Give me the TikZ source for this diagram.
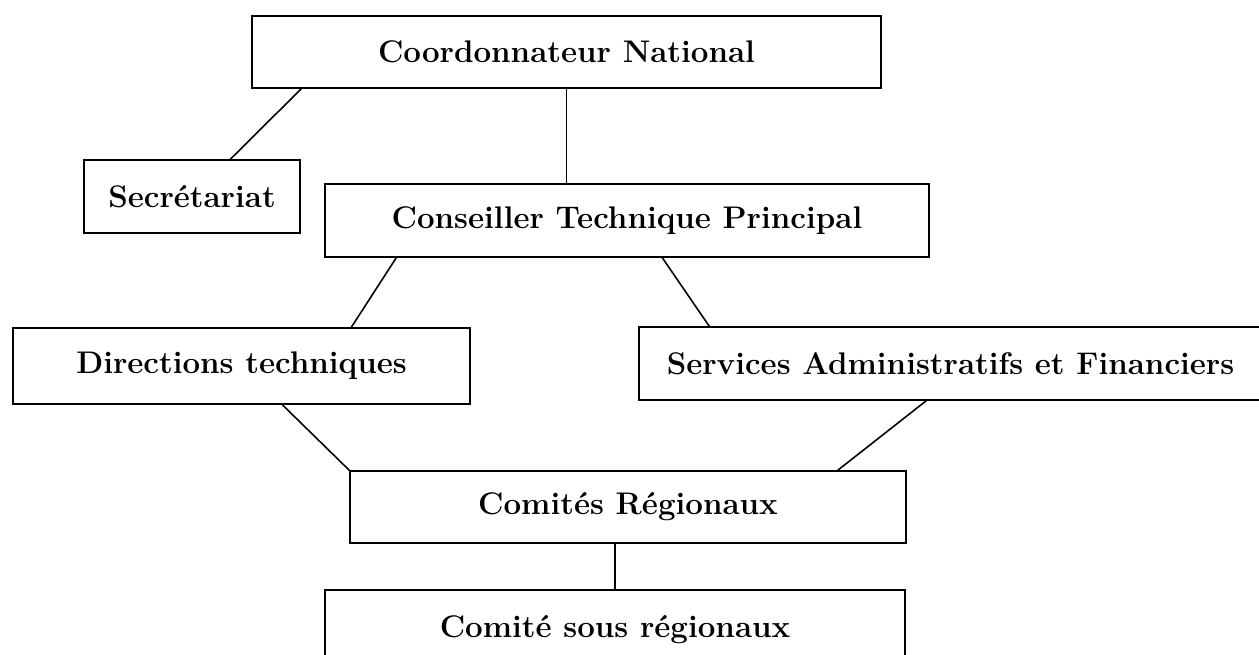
\documentclass[tikz,border=0pt]{standalone}
\usepackage{tikz}
\usetikzlibrary{positioning,calc}

\begin{document}
\begin{tikzpicture}[x=0.02cm,y=-0.02cm,
    unit/.style={draw, thick, rectangle, inner sep=0pt, font=\fontsize{17.8}{21}\selectfont\bfseries},
    link/.style={draw, line width=0.9pt}]
    \useasboundingbox (0,0) rectangle (1259,654);

    % Boxes (organigram levels)
    \node[unit, minimum width=629*0.02cm, minimum height=72*0.02cm] (coord) at (566.5,52) {Coordonnateur National};
    \node[unit, minimum width=216*0.02cm, minimum height=73*0.02cm] (secr) at (192,196.5) {Secrétariat};
    \node[unit, minimum width=604*0.02cm, minimum height=73*0.02cm] (ctp) at (627,220.5) {Conseiller Technique Principal};
    \node[unit, minimum width=457*0.02cm, minimum height=76*0.02cm] (dir) at (241.5,366) {Directions techniques};
    \node[unit, minimum width=623*0.02cm, minimum height=73*0.02cm] (saf) at (950.5,363.5) {Services Administratifs et Financiers};
    \node[unit, minimum width=556*0.02cm, minimum height=72*0.02cm] (crg) at (628,507) {Comités Régionaux};
    \node[unit, minimum width=580*0.02cm, minimum height=72*0.02cm, text depth=0pt] (csr) at (615,626) {Comité sous régionaux};

    % Links
    \draw[link] ($(coord.south west)+(50,0)$) -- ($(secr.north west)+(147,0)$);
    \draw[link] (coord.south) -- (coord.south |- ctp.north);
    \draw[link] ($(ctp.south west)+(72,0)$) -- ($(dir.north west)+(339,0)$);
    \draw[link] ($(ctp.south west)+(338,0)$) -- ($(saf.north west)+(71,0)$);
    \draw[link] ($(dir.south west)+(270,0)$) -- (crg.north west);
    \draw[link] ($(saf.south west)+(288,0)$) -- ($(crg.north east)+(-69,0)$);
    \draw[link] (csr.north |- crg.south) -- (csr.north);
\end{tikzpicture}
\end{document}
